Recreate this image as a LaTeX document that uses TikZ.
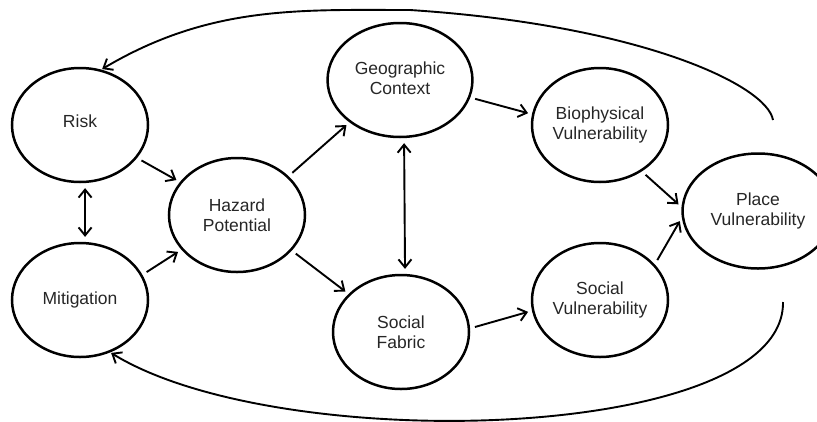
\documentclass[tikz,border=0pt]{standalone}
\usepackage{fontspec}
\setmainfont{Liberation Sans}
\usetikzlibrary{arrows.meta,shapes.geometric}

\begin{document}
\begin{tikzpicture}[x=1pt,y=-1pt,
  font=\fontsize{17.5}{20}\selectfont,
  blob/.style={draw,ellipse,line width=2.5pt,align=center,inner sep=0,
    minimum width=136pt,minimum height=114pt,text=black!85},
  arr/.style={-{Straight Barb[length=8pt,width=13pt]},line width=1.9pt,
    shorten <=5pt,shorten >=4pt},
  darr/.style={{Straight Barb[length=8pt,width=13pt]}-{Straight Barb[length=8pt,width=13pt]},
    line width=1.9pt,shorten <=5pt,shorten >=5pt},
  loop/.style={-{Straight Barb[length=8pt,width=13pt]},line width=1.9pt}]
\useasboundingbox (0,0) rectangle (817,421);

% ---- the places
\node[blob] (risk)  at (80,125)  {\raisebox{7pt}{Risk}};
\node[blob] (mit)   at (80,300)  {Mitigation};
\node[blob] (haz)   at (237,215) {Hazard\\Potential};
\node[blob] (geo)   at (400,80)  {\raisebox{3pt}{\begin{tabular}{c}Geographic\\Context\end{tabular}}};
\node[blob] (sf)    at (401,332) {Social\\Fabric};
\node[blob] (bio)   at (600,125) {Biophysical\\Vulnerability};
\node[blob] (sv)    at (600,300) {Social\\Vulnerability};
\node[blob,minimum width=130pt,minimum height=115pt] (place) at (758,211)
  {\raisebox{8pt}{\begin{tabular}{c}Place\\Vulnerability\end{tabular}}};

% ---- straight links
\draw[arr] (risk.-30)--(haz.150);
\draw[arr] (mit.22)--(haz.-148);
\draw[arr] (haz.37)--(geo.-140);
\draw[arr] (haz.-33)--(sf.144);
\draw[arr] (geo.-14)--(bio.171);
\draw[arr] (sf.3)--(sv.-171);
\draw[arr] (bio.-48)--(place.177);
\draw[arr] (sv.33)--(place.-175);
\draw[darr] (risk.-85)--(mit.85);
\draw[darr] (geo.-86)--(sf.86);

% ---- feedback loops
\coordinate (topstart) at (773,120);
\coordinate (botstart) at (783,302);
\draw[loop,shorten >=1pt] (topstart) .. controls (767,85) and (640,25) .. (410,10)
  .. controls (300,10) and (210,5) .. (risk.69);
\draw[loop,shorten >=1pt] (botstart) .. controls (785,442) and (280,457) .. (mit.-60);
\end{tikzpicture}
\end{document}
